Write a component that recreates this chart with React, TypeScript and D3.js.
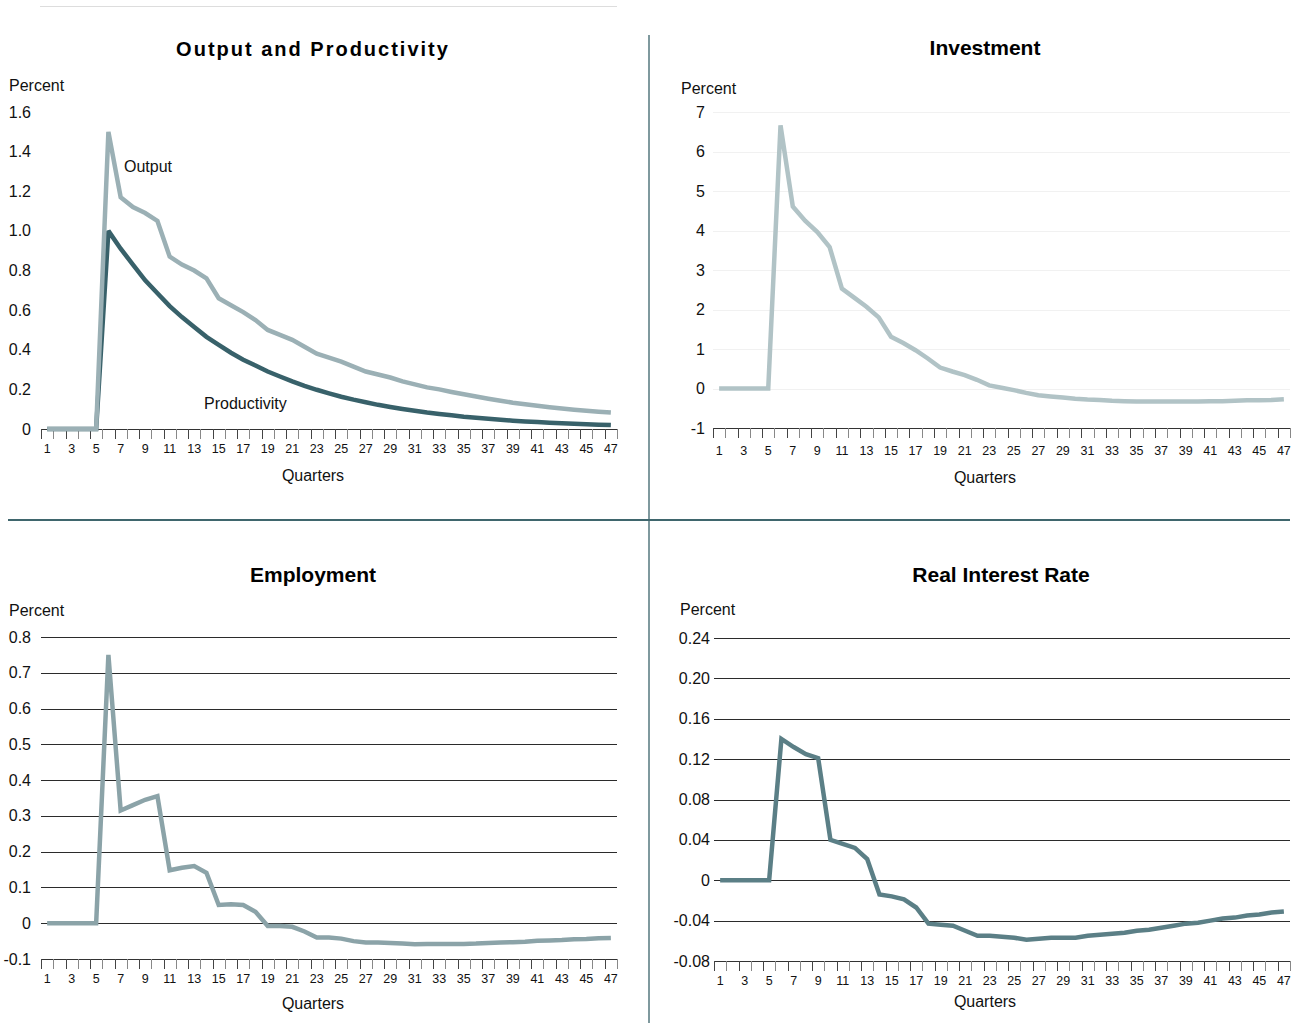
import React from "react";
import * as d3 from "d3";

// Quarters after the shock
const quarters: number[] = d3.range(1, 48);

// Impulse responses, percent deviation
const output: number[] = [
  0, 0, 0, 0, 0,
  1.5, 1.17, 1.12, 1.09, 1.05,
  0.87, 0.83, 0.8, 0.76, 0.66,
  0.625, 0.59, 0.55, 0.5, 0.475,
  0.45, 0.415, 0.38, 0.36, 0.34,
  0.315, 0.29, 0.275, 0.26, 0.24,
  0.225, 0.21, 0.2, 0.187, 0.175,
  0.164, 0.153, 0.143, 0.133, 0.125,
  0.117, 0.11, 0.103, 0.097, 0.092,
  0.087, 0.083,
];

const productivity: number[] = [
  0, 0, 0, 0, 0,
  1.0, 0.91, 0.83, 0.75, 0.685,
  0.62, 0.565, 0.515, 0.465, 0.425,
  0.385, 0.35, 0.32, 0.29, 0.265,
  0.24, 0.218, 0.198, 0.18, 0.163,
  0.148, 0.135, 0.122, 0.111, 0.101,
  0.092, 0.083, 0.076, 0.069, 0.062,
  0.057, 0.052, 0.047, 0.042, 0.038,
  0.035, 0.032, 0.029, 0.026, 0.024,
  0.022, 0.02,
];

const investment: number[] = [
  0, 0, 0, 0, 0,
  6.66, 4.61, 4.25, 3.96, 3.58,
  2.53, 2.3, 2.07, 1.8, 1.31,
  1.15, 0.97, 0.76, 0.53, 0.43,
  0.34, 0.22, 0.08, 0.02, -0.04,
  -0.11, -0.17, -0.2, -0.23, -0.26,
  -0.28, -0.29, -0.31, -0.32, -0.33,
  -0.33, -0.33, -0.33, -0.33, -0.33,
  -0.32, -0.32, -0.31, -0.3, -0.295,
  -0.29, -0.27,
];

const employment: number[] = [
  0, 0, 0, 0, 0,
  0.75, 0.315, 0.33, 0.345, 0.355,
  0.148, 0.155, 0.16, 0.141, 0.051,
  0.053, 0.051, 0.032, -0.008, -0.008,
  -0.01, -0.023, -0.04, -0.04, -0.043,
  -0.05, -0.054, -0.054, -0.055, -0.057,
  -0.059, -0.058, -0.058, -0.058, -0.058,
  -0.057, -0.055, -0.054, -0.053, -0.052,
  -0.049, -0.048, -0.047, -0.045, -0.044,
  -0.042, -0.041,
];

const realRate: number[] = [
  0, 0, 0, 0, 0,
  0.14, 0.132, 0.125, 0.121, 0.04,
  0.036, 0.032, 0.021, -0.014, -0.016,
  -0.019, -0.027, -0.043, -0.044, -0.045,
  -0.05, -0.055, -0.055, -0.056, -0.057,
  -0.059, -0.058, -0.057, -0.057, -0.057,
  -0.055, -0.054, -0.053, -0.052, -0.05,
  -0.049, -0.047, -0.045, -0.043, -0.042,
  -0.04, -0.038, -0.037, -0.035, -0.034,
  -0.032, -0.031,
];

// Y tick values and their printed labels
const outputTicks: number[] = [0, 0.2, 0.4, 0.6, 0.8, 1.0, 1.2, 1.4, 1.6];
const outputTickLabels: string[] = ["0", "0.2", "0.4", "0.6", "0.8", "1.0", "1.2", "1.4", "1.6"];
const investTicks: number[] = [-1, 0, 1, 2, 3, 4, 5, 6, 7];
const investTickLabels: string[] = ["-1", "0", "1", "2", "3", "4", "5", "6", "7"];
const emplTicks: number[] = [-0.1, 0, 0.1, 0.2, 0.3, 0.4, 0.5, 0.6, 0.7, 0.8];
const emplTickLabels: string[] = ["-0.1", "0", "0.1", "0.2", "0.3", "0.4", "0.5", "0.6", "0.7", "0.8"];
const rateTicks: number[] = [-0.08, -0.04, 0, 0.04, 0.08, 0.12, 0.16, 0.2, 0.24];
const rateTickLabels: string[] = ["-0.08", "-0.04", "0", "0.04", "0.08", "0.12", "0.16", "0.20", "0.24"];

const FONT = "'Liberation Sans', Arial, Helvetica, sans-serif";
const NARROW = "'Liberation Sans Narrow', 'Arial Narrow', 'Liberation Sans', Arial, sans-serif";

type Series = { values: number[]; color: string; width: number };

type PanelProps = {
  title: string;
  titleX: number;
  titleY: number;
  titleSize?: number;
  titleSpacing?: number;
  x0: number;
  x1: number;
  yTop: number;
  yBottom: number;
  ticks: number[];
  tickLabels: string[];
  labelRight: number;
  percentX: number;
  percentY: number;
  tickLabelY: number;
  quartersX: number;
  quartersY: number;
  grid: "none" | "faint" | "dark";
  series: Series[];
};

function Panel(p: PanelProps) {
  const x = d3.scaleBand<number>().domain(quarters).range([p.x0, p.x1]).padding(0);
  const bw = x.bandwidth();
  const domain = d3.extent(p.ticks) as [number, number];
  const y = d3.scaleLinear().domain(domain).range([p.yBottom, p.yTop]);
  const line = d3
    .line<number>()
    .x((_, i) => (x(quarters[i]) as number) + bw / 2)
    .y((v) => y(v));
  const bottom = y(domain[0]);
  const gridColor = p.grid === "dark" ? "#2b2b2b" : "#f1f1f1";
  return (
    <g>
      <text
        x={p.titleX}
        y={p.titleY}
        textAnchor="middle"
        fontFamily={FONT}
        fontWeight="bold"
        fontSize={p.titleSize ?? 21}
        letterSpacing={p.titleSpacing ?? 0}
        fill="#000"
      >
        {p.title}
      </text>
      <text x={p.percentX} y={p.percentY} fontFamily={FONT} fontSize={16} fill="#111">
        Percent
      </text>
      {p.grid !== "none" &&
        p.ticks
          .filter((t) => t !== domain[0])
          .map((t) => (
            <line
              key={"g" + t}
              x1={p.x0}
              x2={p.x1}
              y1={Math.round(y(t)) + 0.5}
              y2={Math.round(y(t)) + 0.5}
              stroke={gridColor}
              strokeWidth={1}
            />
          ))}
      {p.ticks.map((t, i) => (
        <text
          key={"yl" + t}
          x={p.labelRight}
          y={y(t)}
          dy="0.35em"
          textAnchor="end"
          fontFamily={FONT}
          fontSize={16}
          fill="#111"
        >
          {p.tickLabels[i]}
        </text>
      ))}
      {/* x axis with ticks on category boundaries */}
      <line x1={p.x0} x2={p.x1} y1={Math.round(bottom) + 0.5} y2={Math.round(bottom) + 0.5} stroke="#333" strokeWidth={1} />
      {d3.range(quarters.length + 1).map((i) => (
        <line
          key={"t" + i}
          x1={Math.round(p.x0 + i * bw) + 0.5}
          x2={Math.round(p.x0 + i * bw) + 0.5}
          y1={Math.round(bottom)}
          y2={Math.round(bottom) + 10}
          stroke={i % 2 === 0 ? "#444" : "#888"}
          strokeWidth={1}
        />
      ))}
      {quarters
        .filter((q) => q % 2 === 1)
        .map((q) => (
          <text
            key={"xl" + q}
            x={(x(q) as number) + bw / 2}
            y={p.tickLabelY}
            dy="0.35em"
            textAnchor="middle"
            fontFamily={NARROW}
            fontSize={12.5}
            fill="#111"
          >
            {q}
          </text>
        ))}
      <text
        x={p.quartersX}
        y={p.quartersY}
        dy="0.35em"
        textAnchor="middle"
        fontFamily={FONT}
        fontSize={16}
        fill="#111"
      >
        Quarters
      </text>
      {p.series.map((s, i) => (
        <path
          key={"s" + i}
          d={line(s.values) || ""}
          fill="none"
          stroke={s.color}
          strokeWidth={s.width}
          strokeLinejoin="miter"
          strokeMiterlimit={2.5}
        />
      ))}
    </g>
  );
}

export default function App() {
  return (
    <svg
      width={1294}
      height={1023}
      style={{ position: "absolute", left: 0, top: 0, background: "#fff" }}
    >
      <rect x={0} y={0} width={1294} height={1023} fill="#fff" />
      {/* frame rules */}
      <line x1={40} x2={617} y1={6.5} y2={6.5} stroke="#dddddd" strokeWidth={1} />
      <line x1={649} x2={649} y1={35} y2={1023} stroke="#7f999e" strokeWidth={2} />
      <line x1={8} x2={1290} y1={520} y2={520} stroke="#3f666d" strokeWidth={2} />

      <Panel
        title="Output and Productivity"
        titleX={313}
        titleY={56}
        titleSize={20}
        titleSpacing={2}
        x0={41}
        x1={617}
        yTop={112}
        yBottom={429}
        ticks={outputTicks}
        tickLabels={outputTickLabels}
        labelRight={31}
        percentX={9}
        percentY={91}
        tickLabelY={449}
        quartersX={313}
        quartersY={475}
        grid="none"
        series={[
          { values: productivity, color: "#38616a", width: 4.5 },
          { values: output, color: "#9bb0b5", width: 4.5 },
        ]}
      />
      <text x={124} y={172} fontFamily={FONT} fontSize={16} fill="#111">
        Output
      </text>
      <text x={204} y={409} fontFamily={FONT} fontSize={16} fill="#111">
        Productivity
      </text>

      <Panel
        title="Investment"
        titleX={985}
        titleY={55}
        x0={713}
        x1={1290}
        yTop={112}
        yBottom={428}
        ticks={investTicks}
        tickLabels={investTickLabels}
        labelRight={705}
        percentX={681}
        percentY={94}
        tickLabelY={451}
        quartersX={985}
        quartersY={477}
        grid="faint"
        series={[{ values: investment, color: "#b1c3c6", width: 4.5 }]}
      />

      <Panel
        title="Employment"
        titleX={313}
        titleY={582}
        x0={41}
        x1={617}
        yTop={637}
        yBottom={959}
        ticks={emplTicks}
        tickLabels={emplTickLabels}
        labelRight={31}
        percentX={9}
        percentY={616}
        tickLabelY={979}
        quartersX={313}
        quartersY={1003}
        grid="dark"
        series={[{ values: employment, color: "#8ba3a8", width: 4.5 }]}
      />

      <Panel
        title="Real Interest Rate"
        titleX={1001}
        titleY={582}
        x0={714}
        x1={1290}
        yTop={638}
        yBottom={961}
        ticks={rateTicks}
        tickLabels={rateTickLabels}
        labelRight={710}
        percentX={680}
        percentY={615}
        tickLabelY={981}
        quartersX={985}
        quartersY={1001}
        grid="dark"
        series={[{ values: realRate, color: "#5b7f86", width: 4.5 }]}
      />
    </svg>
  );
}
